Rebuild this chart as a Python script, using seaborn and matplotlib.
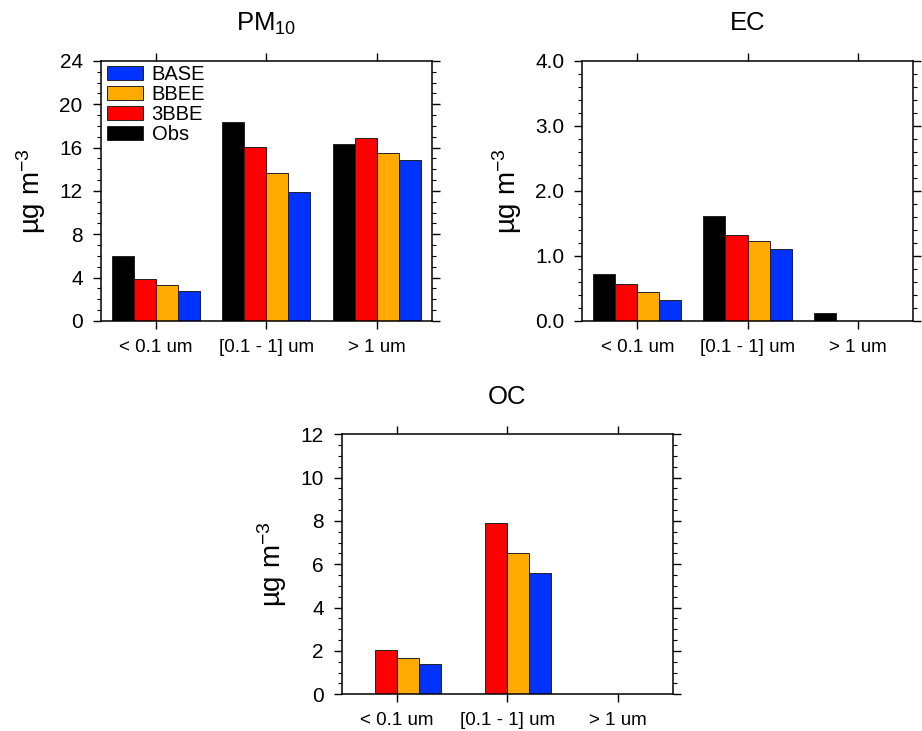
import numpy as np
import pandas as pd
import matplotlib.pyplot as plt
import seaborn as sns
from matplotlib.ticker import MultipleLocator, FormatStrFormatter
from matplotlib.patches import Patch

sizes = ["< 0.1 um", "[0.1 - 1] um", "> 1 um"]
cases = ["Obs", "3BBE", "BBEE", "BASE"]
colors = {"Obs": "#000000", "3BBE": "#ff0000", "BBEE": "#ffaa00", "BASE": "#0033ff"}

# PM10
pm10_obs = [6.0, 18.35, 16.3]
pm10_3bbe = [3.9, 16.1, 16.9]
pm10_bbee = [3.3, 13.7, 15.55]
pm10_base = [2.75, 11.95, 14.9]

# EC
ec_obs = [0.72, 1.62, 0.13]
ec_3bbe = [0.57, 1.33, 0.0]
ec_bbee = [0.44, 1.23, 0.0]
ec_base = [0.33, 1.10, 0.0]

# OC (no obs)
oc_obs = [np.nan, np.nan, np.nan]
oc_3bbe = [2.03, 7.9, 0.0]
oc_bbee = [1.68, 6.5, 0.0]
oc_base = [1.38, 5.58, 0.0]


def to_long(obs, b3, bb, base):
    rows = []
    for case, vals in zip(cases, [obs, b3, bb, base]):
        for s, v in zip(sizes, vals):
            rows.append({"size": s, "case": case, "value": v})
    return pd.DataFrame(rows)


sns.set_style("ticks")
plt.rcParams["font.family"] = ["Liberation Sans", "DejaVu Sans"]
plt.rcParams["mathtext.default"] = "regular"
for key in ["text.color", "axes.labelcolor", "xtick.color", "ytick.color", "axes.edgecolor"]:
    plt.rcParams[key] = "black"

fig = plt.figure(figsize=(9.22, 7.31), dpi=100)

panels = [
    ("PM$_{10}$", to_long(pm10_obs, pm10_3bbe, pm10_bbee, pm10_base), 24, 4, 1, "%d",
     [0.1092, 0.5609, 0.3593, 0.3557]),
    ("EC", to_long(ec_obs, ec_3bbe, ec_bbee, ec_base), 4.0, 1.0, 0.2, "%.1f",
     [0.6316, 0.5609, 0.3583, 0.3557]),
    ("OC", to_long(oc_obs, oc_3bbe, oc_bbee, oc_base), 12, 2, 0.5, "%d",
     [0.3706, 0.0502, 0.3590, 0.3557]),
]

for i, (title, df, ymax, major, minor, fmt, rect) in enumerate(panels):
    ax = fig.add_axes(rect)
    sns.barplot(data=df, x="size", y="value", hue="case", order=sizes,
                hue_order=cases, palette=colors, errorbar=None, width=0.8,
                edgecolor="#222222", linewidth=0.7, saturation=1,
                legend=False, ax=ax)
    ax.set_xlim(-0.5, 2.5)
    ax.set_ylim(0, ymax)
    ax.yaxis.set_major_locator(MultipleLocator(major))
    ax.yaxis.set_minor_locator(MultipleLocator(minor))
    ax.yaxis.set_major_formatter(FormatStrFormatter(fmt))
    ax.tick_params(axis="both", which="major", direction="out", length=6,
                   width=1.0, top=True, right=True, pad=7)
    ax.tick_params(axis="y", which="minor", direction="out", length=3,
                   width=0.8, right=True)
    ax.tick_params(axis="y", labelsize=15)
    ax.tick_params(axis="x", labelsize=13.5)
    for sp in ax.spines.values():
        sp.set_linewidth(1.1)
        sp.set_visible(True)
    ax.set_xlabel("")
    ax.set_ylabel("µg m$^{-3}$", fontsize=20, labelpad=8)
    ax.set_title(title, fontsize=18.5, pad=22)

    if i == 0:
        handles = [Patch(facecolor=colors[c], edgecolor="#222222", linewidth=0.7)
                   for c in cases[::-1]]
        ax.legend(handles, cases[::-1], loc="upper left",
                  bbox_to_anchor=(0.02, 0.985), frameon=False, fontsize=14.5,
                  handlelength=1.75, handleheight=0.7, handletextpad=0.45,
                  labelspacing=0.05, borderpad=0, borderaxespad=0)

fig.savefig("out.png", dpi=100)
